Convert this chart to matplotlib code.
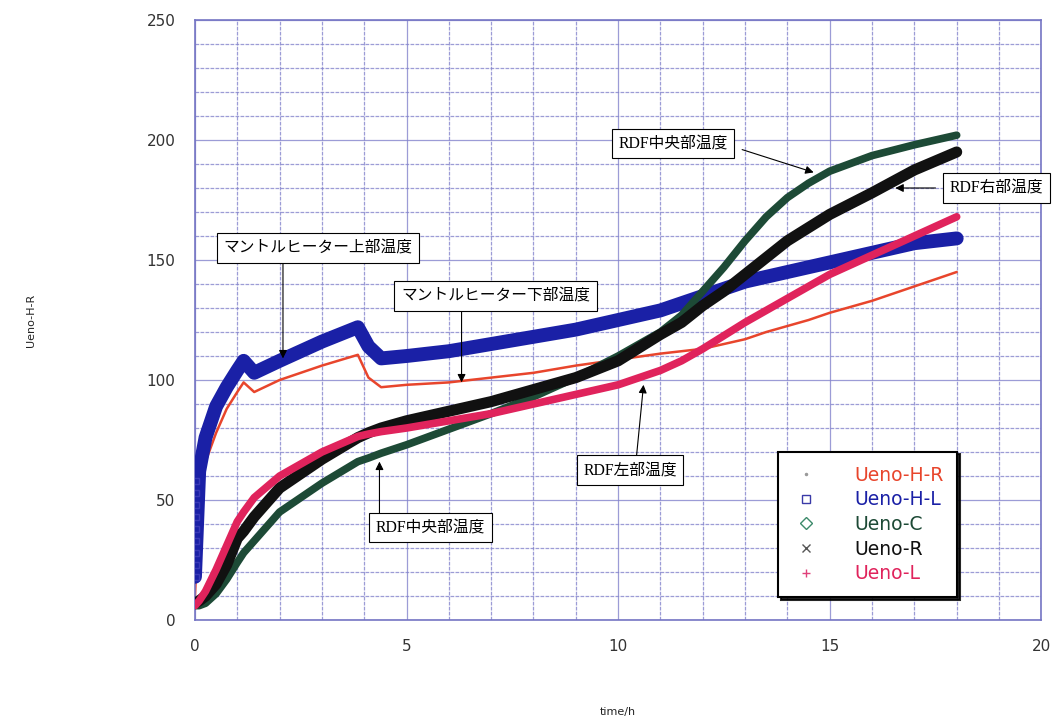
import matplotlib
matplotlib.use("Agg")
import matplotlib.pyplot as plt
from matplotlib.lines import Line2D

# ---- data ----
time_h = [0, 0.1, 0.25, 0.5, 0.75, 1.0, 1.15, 1.4, 2, 3, 3.85, 4.1, 4.4,
          5, 6, 7, 8, 9, 10, 11, 11.5, 12, 12.5, 13, 13.5, 14, 14.5, 15, 16, 17, 18]
ueno_h_r = [10, 50, 66, 78, 88, 95, 99, 95, 100, 106, 110.5, 101, 97,
            98, 99, 101, 103, 106, 108.5, 111, 112, 113, 115, 117, 120, 122.5, 125, 128, 133, 139, 145]
ueno_h_l = [18, 62, 76, 89, 97, 104, 108, 103, 108, 116, 122, 114, 109,
            110, 112, 115, 118, 121, 125, 129, 132, 135, 138, 141, 143, 145, 147, 149, 153, 157, 159]
ueno_c = [6, 6, 7, 11, 17, 24, 28, 33, 45, 57, 66, 67.5, 69.5,
          73, 79.5, 86, 93, 101, 110, 120, 127, 137, 147, 158, 168, 176, 182, 187, 193.5, 198, 202]
ueno_r = [7, 8, 10, 15, 23, 34, 37, 43, 55, 67, 76, 78, 80,
          83, 87, 91, 96, 101, 108, 119, 124, 131, 137, 144, 151, 158, 163.5, 169, 178, 187.5, 195]
ueno_l = [6, 8, 12, 21, 31, 41, 45, 51, 60, 70, 76.5, 77.5, 78.5,
          80, 83, 86, 90, 94, 98, 104, 108, 113, 118.5, 124, 129, 134, 139, 144, 152, 160, 168]

series_names = ["Ueno-H-R", "Ueno-H-L", "Ueno-C", "Ueno-R", "Ueno-L"]
series_colors = ["#e8452c", "#1a20a6", "#1d4a36", "#111111", "#e0235c"]

x_ticks = [0, 5, 10, 15, 20]
y_ticks = [0, 50, 100, 150, 200, 250]

annotations = [
    ("マントルヒーター上部温度", (2.08, 109), (2.9, 155)),
    ("マントルヒーター下部温度", (6.3, 99), (7.1, 135)),
    ("RDF中央部温度", (14.62, 186.5), (11.3, 198.5)),
    ("RDF右部温度", (16.55, 180), (18.95, 180)),
    ("RDF左部温度", (10.6, 98), (10.28, 62.5)),
    ("RDF中央部温度", (4.36, 66), (5.57, 38.5)),
]
arrow_starts = [(2.08, 150), (6.3, 129.5), (12.93, 196), (17.5, 180), (10.43, 67.5), (4.36, 44.5)]

# ---- figure ----
fig = plt.figure(figsize=(10.63, 7.24), dpi=100)
ax = fig.add_axes([0.1834, 0.1436, 0.7962, 0.8288])
ax.set_xlim(0, 20)
ax.set_ylim(0, 250)

grid_col = "#8484cc"
ax.set_xticks(range(0, 21), minor=True)
ax.set_yticks(range(0, 251, 10), minor=True)
ax.grid(which="minor", color=grid_col, linestyle=(0, (3, 1)), linewidth=0.9, alpha=0.8)
ax.grid(which="major", color=grid_col, linestyle="-", linewidth=0.9, alpha=0.8)
ax.set_axisbelow(True)
for s in ax.spines.values():
    s.set_color("#7575c4")
    s.set_linewidth(1.2)

ax.set_xticks(x_ticks)
ax.set_yticks(y_ticks)
ax.tick_params(which="both", length=0)
ax.tick_params(axis="x", pad=14, labelsize=11, labelcolor="#333333")
ax.tick_params(axis="y", pad=14, labelsize=11, labelcolor="#333333")

widths = [1.8, 10, 5.5, 8, 5.5]
values = [ueno_h_r, ueno_h_l, ueno_c, ueno_r, ueno_l]
zorders = [2, 3, 4, 5, 6]
for name, col, lw, vals, z in zip(series_names, series_colors, widths, values, zorders):
    ax.plot(time_h, vals, color=col, linewidth=lw, solid_capstyle="round",
            solid_joinstyle="round", zorder=z)

# blue start markers stacked at t=0
ax.plot([0.03] * 9, [18, 23, 28, 33, 38, 43, 48, 53, 58], linestyle="none", marker="s",
        markersize=4, markerfacecolor="none", markeredgecolor="#3a3ab8", zorder=3)

ax.set_xlabel("time/h", fontsize=8, labelpad=38, color="#222222")
ax.set_ylabel("Ueno-H-R", fontsize=8, labelpad=80, color="#222222")

# annotations
ann_font = ["Liberation Serif", "Noto Sans CJK JP"]
for (txt, tip, center), start in zip(annotations, arrow_starts):
    ax.annotate("", xy=tip, xytext=start,
                arrowprops=dict(arrowstyle="-|>", color="black", lw=0.8,
                                mutation_scale=12, shrinkA=0, shrinkB=0), zorder=8)
    ax.text(center[0], center[1], txt, ha="center", va="center", fontsize=11.3,
            family=ann_font, zorder=9,
            bbox=dict(boxstyle="square,pad=0.42", facecolor="white",
                      edgecolor="black", linewidth=0.8))

# legend
markers = [".", "s", "D", "x", "+"]
mcols = ["#9a9a9a", "#3a3aa8", "#3c8a6a", "#555555", "#e0407a"]
handles = [Line2D([], [], linestyle="none", marker=m, markersize=6 if m != "." else 3,
                  markerfacecolor="none" if m in ("s", "D") else c, markeredgecolor=c)
           for m, c in zip(markers, mcols)]
leg = ax.legend(handles, series_names, loc="lower left", bbox_to_anchor=(0.689, 0.038),
                fontsize=13.5, frameon=True, fancybox=False,
                shadow={"color": "black", "alpha": 0.85},
                edgecolor="black", handletextpad=1.8, labelspacing=0.3,
                borderpad=0.75, handlelength=1.5, borderaxespad=0)
leg.get_frame().set_linewidth(1.5)
for t, c in zip(leg.get_texts(), series_colors):
    t.set_color(c)
    t.set_fontweight("medium")
leg.set_zorder(10)

fig.savefig("out.png", dpi=100, facecolor="white")
